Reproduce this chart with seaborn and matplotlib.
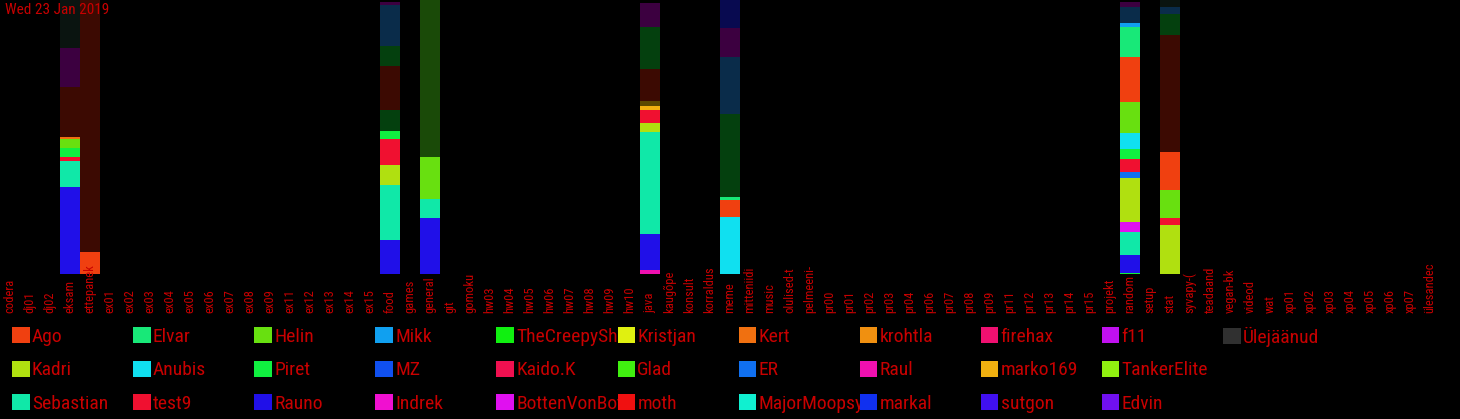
import pandas as pd
import matplotlib.pyplot as plt
import seaborn as sns
from matplotlib.patches import Patch

# channels on the x axis (labels as they are shown, truncated)
channels = ['codera', 'dj01', 'dj02', 'eksam', 'ettepanek', 'ex01', 'ex02', 'ex03', 'ex04',
            'ex05', 'ex06', 'ex07', 'ex08', 'ex09', 'ex11', 'ex12', 'ex13', 'ex14', 'ex15',
            'food', 'games', 'general', 'git', 'gomoku', 'hw03', 'hw04', 'hw05', 'hw06', 'hw07',
            'hw08', 'hw09', 'hw10', 'java', 'kaugõpe', 'konsult', 'korraldus', 'meme',
            'mitteniidi', 'music', 'olulised-t', 'pelmeeni-', 'pr00', 'pr01', 'pr02', 'pr03',
            'pr04', 'pr06', 'pr07', 'pr08', 'pr09', 'pr11', 'pr12', 'pr13', 'pr14', 'pr15',
            'projekt', 'random', 'setup', 'stat', 'syvapy-(', 'teadaand', 'vegan-bk', 'videod',
            'wat', 'xp01', 'xp02', 'xp03', 'xp04', 'xp05', 'xp06', 'xp07', 'ülesandec']

# legend users, column by column (3 per column)
users = ['Ago', 'Kadri', 'Sebastian', 'Elvar', 'Anubis', 'test9', 'Helin', 'Piret', 'Rauno',
         'Mikk', 'MZ', 'Indrek', 'TheCreepySh', 'Kaido.K', 'BottenVonBot', 'Kristjan', 'Glad',
         'moth', 'Kert', 'ER', 'MajorMoopsy', 'krohtla', 'Raul', 'markal', 'firehax',
         'marko169', 'sutgon', 'f11', 'TankerElite', 'Edvin', 'Ülejäänud']
user_colors = ['#f04010', '#b0e010', '#10e8a8', '#18e878', '#10e0f0', '#f01030', '#68e010',
               '#10f040', '#2010e8', '#10a0f0', '#1050f0', '#f010d0', '#10f010', '#f01050',
               '#e010f0', '#e0f010', '#40f010', '#f01010', '#f07010', '#1070f0', '#10f0d0',
               '#f09010', '#f010b0', '#1030f0', '#f01070', '#f0b010', '#4010f0', '#c010f0',
               '#90f010', '#7010f0', '#303030']

# darker segments that have no legend entry
others = ['muu-pruun', 'muu-roheline', 'muu-oliiv', 'muu-sinine', 'muu-lilla', 'muu-must',
          'muu-tumesinine', 'muu-kollakas']
other_colors = ['#3c0a02', '#04400e', '#1a4a08', '#0a2c4a', '#3c0040', '#0a1410',
                '#080a50', '#5a4800']

# stacks, bottom to top
eksam_users = ['Rauno', 'Sebastian', 'test9', 'Piret', 'Helin', 'Kert', 'muu-pruun',
               'muu-lilla', 'muu-must']
eksam_counts = [87, 26, 4, 9, 9, 2, 50, 39, 48]

ettepanek_users = ['Ago', 'muu-pruun']
ettepanek_counts = [22, 252]

food_users = ['Rauno', 'Sebastian', 'Kadri', 'test9', 'Piret', 'muu-roheline', 'muu-pruun',
              'muu-roheline', 'muu-sinine', 'muu-lilla']
food_counts = [34, 55, 20, 26, 8, 21, 44, 20, 41, 3]

general_users = ['Rauno', 'Sebastian', 'Helin', 'muu-oliiv']
general_counts = [56, 19, 42, 157]

java_users = ['Raul', 'Rauno', 'Sebastian', 'Kadri', 'test9', 'marko169', 'muu-kollakas',
              'muu-pruun', 'muu-roheline', 'muu-lilla']
java_counts = [4, 36, 102, 9, 13, 4, 5, 32, 42, 24]

meme_users = ['Anubis', 'Ago', 'Elvar', 'muu-roheline', 'muu-sinine', 'muu-lilla',
              'muu-tumesinine']
meme_counts = [57, 17, 3, 83, 57, 29, 28]

random_users = ['Piret', 'Rauno', 'Sebastian', 'BottenVonBot', 'Kadri', 'ER', 'test9', 'Piret',
                'Anubis', 'Helin', 'Ago', 'Elvar', 'Mikk', 'muu-sinine', 'muu-lilla']
random_counts = [1, 18, 23, 10, 44, 6, 13, 10, 16, 31, 45, 30, 4, 16, 5]

stat_users = ['Kadri', 'test9', 'Helin', 'Ago', 'muu-pruun', 'muu-roheline', 'muu-sinine',
              'muu-must']
stat_counts = [49, 7, 28, 38, 117, 21, 7, 7]

stacks = {'eksam': (eksam_users, eksam_counts),
          'ettepanek': (ettepanek_users, ettepanek_counts),
          'food': (food_users, food_counts),
          'general': (general_users, general_counts),
          'java': (java_users, java_counts),
          'meme': (meme_users, meme_counts),
          'random': (random_users, random_counts),
          'stat': (stat_users, stat_counts)}

rows = []
for ch, (us, cs) in stacks.items():
    for lvl, (u, c) in enumerate(zip(us, cs)):
        rows.append({'channel': ch, 'user': u, 'count': c, 'level': lvl})
df = pd.DataFrame(rows)
df['top'] = df.groupby('channel')['count'].cumsum()

palette = dict(zip(users + others, user_colors + other_colors))
txt_red = '#c80000'

plt.rcParams['font.family'] = ['Roboto Condensed', 'DejaVu Sans Condensed',
                               'Liberation Sans Narrow', 'Open Sans Condensed', 'Roboto']
plt.rcParams['font.stretch'] = 'condensed'

fig = plt.figure(figsize=(14.6, 4.19), dpi=100, facecolor='black')
ax = fig.add_axes([0, 145 / 419, 1440 / 1460, 274 / 419])
ax.set_facecolor('black')

# draw highest level first, lower levels painted over it
for lvl in sorted(df['level'].unique(), reverse=True):
    sub = df[df['level'] == lvl]
    sns.barplot(data=sub, x='channel', y='top', hue='user', order=channels,
                hue_order=users + others, palette=palette, dodge=False, width=1.0,
                saturation=1, legend=False, linewidth=0, ax=ax)

ax.set_xlim(-0.5, len(channels) - 0.5)
ax.set_ylim(0, 274)
ax.set_xlabel('')
ax.set_ylabel('')
ax.set_yticks([])
for s in ax.spines.values():
    s.set_visible(False)
ax.tick_params(axis='x', length=0, pad=28, colors=txt_red, labelsize=9)
ax.set_xticks(range(len(channels)))
ax.set_xticklabels(channels, rotation=90)
for lab in ax.get_xticklabels():
    lab.set_verticalalignment('bottom')

fig.text(5 / 1460, 1 - 3 / 419, 'Wed 23 Jan 2019', color=txt_red, fontsize=11,
         ha='left', va='top')

# legend, one column at a time so the pitch stays fixed
blank = Patch(facecolor='none', edgecolor='none', label=' ')
for i in range(0, len(users), 3):
    col = users[i:i + 3]
    handles = [Patch(facecolor=palette[u], edgecolor='none', label=u) for u in col]
    handles += [blank] * (3 - len(handles))
    fig.legend(handles=handles, loc='upper left',
               bbox_to_anchor=(12 / 1460 + (i // 3) * 121.1 / 1460, 1 - 327 / 419),
               frameon=False, fontsize=14, labelcolor=txt_red, borderpad=0,
               borderaxespad=0, handlelength=0.9, handleheight=0.9, handletextpad=0.12,
               labelspacing=0.76)

fig.savefig('out.png', dpi=100, facecolor='black')
